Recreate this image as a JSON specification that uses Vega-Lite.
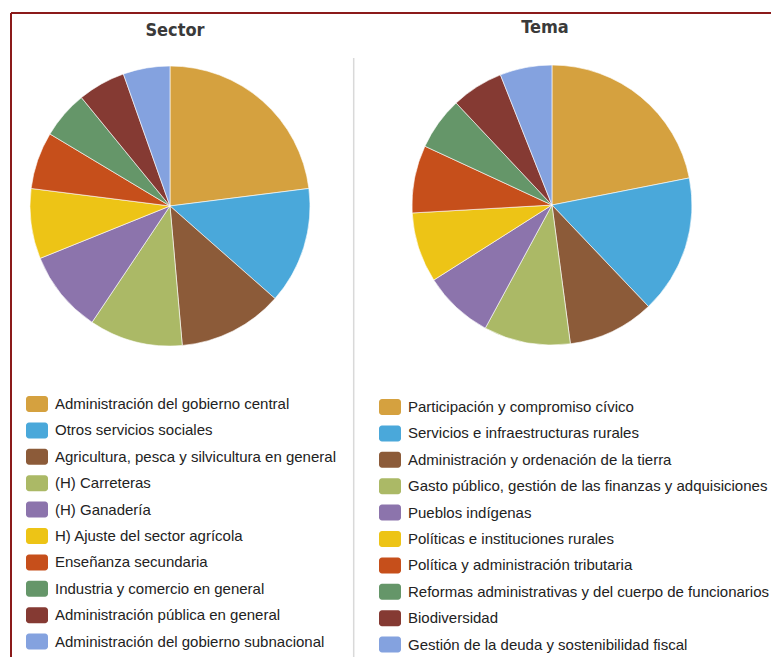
{
  "$schema": "https://vega.github.io/schema/vega-lite/v6.json",
  "width": 760,
  "height": 644,
  "autosize": "none",
  "padding": {"left": 11, "top": 13, "right": 0, "bottom": 0},
  "background": "white",
  "datasets": {
    "sector": [
      {"categoria": "Administración del gobierno central", "pct": 23.0, "orden": 1},
      {"categoria": "Otros servicios sociales", "pct": 13.5, "orden": 2},
      {"categoria": "Agricultura, pesca y silvicultura en general", "pct": 12.1, "orden": 3},
      {"categoria": "(H) Carreteras", "pct": 10.8, "orden": 4},
      {"categoria": "(H) Ganadería", "pct": 9.5, "orden": 5},
      {"categoria": "H) Ajuste del sector agrícola", "pct": 8.1, "orden": 6},
      {"categoria": "Enseñanza secundaria", "pct": 6.6, "orden": 7},
      {"categoria": "Industria y comercio en general", "pct": 5.5, "orden": 8},
      {"categoria": "Administración pública en general", "pct": 5.5, "orden": 9},
      {"categoria": "Administración del gobierno subnacional", "pct": 5.4, "orden": 10}
    ],
    "tema": [
      {"categoria": "Participación y compromiso cívico", "pct": 21.9, "orden": 1},
      {"categoria": "Servicios e infraestructuras rurales", "pct": 16.0, "orden": 2},
      {"categoria": "Administración y ordenación de la tierra", "pct": 10.0, "orden": 3},
      {"categoria": "Gasto público, gestión de las finanzas y adquisiciones", "pct": 10.0, "orden": 4},
      {"categoria": "Pueblos indígenas", "pct": 8.1, "orden": 5},
      {"categoria": "Políticas e instituciones rurales", "pct": 8.1, "orden": 6},
      {"categoria": "Política y administración tributaria", "pct": 7.8, "orden": 7},
      {"categoria": "Reformas administrativas y del cuerpo de funcionarios", "pct": 6.1, "orden": 8},
      {"categoria": "Biodiversidad", "pct": 6.0, "orden": 9},
      {"categoria": "Gestión de la deuda y sostenibilidad fiscal", "pct": 6.0, "orden": 10}
    ]
  },
  "layer": [
    {
      "data": {"values": [{}]},
      "mark": {"type": "rule", "stroke": "#8B1A1A", "strokeWidth": 2},
      "encoding": {"x": {"value": 0}, "x2": {"value": "width"}, "y": {"value": 0}}
    },
    {
      "data": {"values": [{}]},
      "mark": {"type": "rule", "stroke": "#8B1A1A", "strokeWidth": 2},
      "encoding": {"x": {"value": 0}, "y": {"value": 0}, "y2": {"value": "height"}}
    },
    {
      "data": {"values": [{}]},
      "mark": {"type": "rule", "stroke": "#D9D9D9", "strokeWidth": 1.5},
      "encoding": {
        "x": {"datum": 0.4509, "type": "quantitative", "scale": {"domain": [0, 1]}},
        "y": {"datum": 0.0699, "type": "quantitative", "scale": {"domain": [0, 1], "reverse": true}},
        "y2": {"datum": 1}
      }
    },
    {
      "data": {"values": [{}]},
      "mark": {"type": "text", "text": "Sector", "font": "DejaVu Sans Condensed, sans-serif", "fontWeight": "bold", "fontSize": 18, "fill": "#3a3a3a", "baseline": "alphabetic", "align": "center"},
      "encoding": {
        "x": {"datum": 0.2158, "type": "quantitative", "scale": {"domain": [0, 1]}},
        "y": {"datum": 0.0357, "type": "quantitative", "scale": {"domain": [0, 1], "reverse": true}}
      }
    },
    {
      "data": {"values": [{}]},
      "mark": {"type": "text", "text": "Tema", "font": "DejaVu Sans Condensed, sans-serif", "fontWeight": "bold", "fontSize": 18, "fill": "#3a3a3a", "baseline": "alphabetic", "align": "center"},
      "encoding": {
        "x": {"datum": 0.7026, "type": "quantitative", "scale": {"domain": [0, 1]}},
        "y": {"datum": 0.0315, "type": "quantitative", "scale": {"domain": [0, 1], "reverse": true}}
      }
    },
    {
      "data": {"name": "sector"},
      "mark": {"type": "arc", "radius": 140, "stroke": "white", "strokeWidth": 0.6},
      "encoding": {
        "x": {"datum": 0.2092, "type": "quantitative", "scale": {"domain": [0, 1]}},
        "y": {"datum": 0.2997, "type": "quantitative", "scale": {"domain": [0, 1], "reverse": true}},
        "theta": {"field": "pct", "type": "quantitative", "stack": true},
        "order": {"field": "orden", "type": "quantitative"},
        "color": {
          "field": "categoria",
          "type": "nominal",
          "scale": {
            "domain": ["Administración del gobierno central", "Otros servicios sociales", "Agricultura, pesca y silvicultura en general", "(H) Carreteras", "(H) Ganadería", "H) Ajuste del sector agrícola", "Enseñanza secundaria", "Industria y comercio en general", "Administración pública en general", "Administración del gobierno subnacional"],
            "range": ["#D5A13F", "#4AA8DA", "#8C5B39", "#ABB966", "#8C74AC", "#EDC416", "#C64F1B", "#659669", "#853A33", "#84A2DF"]
          },
          "legend": {"orient": "none", "legendX": 15, "legendY": 380, "title": null}
        }
      }
    },
    {
      "data": {"name": "tema"},
      "mark": {"type": "arc", "radius": 140, "stroke": "white", "strokeWidth": 0.6},
      "encoding": {
        "x": {"datum": 0.7118, "type": "quantitative", "scale": {"domain": [0, 1]}},
        "y": {"datum": 0.2982, "type": "quantitative", "scale": {"domain": [0, 1], "reverse": true}},
        "theta": {"field": "pct", "type": "quantitative", "stack": true},
        "order": {"field": "orden", "type": "quantitative"},
        "color": {
          "field": "categoria",
          "type": "nominal",
          "scale": {
            "domain": ["Participación y compromiso cívico", "Servicios e infraestructuras rurales", "Administración y ordenación de la tierra", "Gasto público, gestión de las finanzas y adquisiciones", "Pueblos indígenas", "Políticas e instituciones rurales", "Política y administración tributaria", "Reformas administrativas y del cuerpo de funcionarios", "Biodiversidad", "Gestión de la deuda y sostenibilidad fiscal"],
            "range": ["#D5A13F", "#4AA8DA", "#8C5B39", "#ABB966", "#8C74AC", "#EDC416", "#C64F1B", "#659669", "#853A33", "#84A2DF"]
          },
          "legend": {"orient": "none", "legendX": 368, "legendY": 383, "title": null}
        }
      }
    }
  ],
  "resolve": {
    "scale": {"color": "independent", "theta": "independent"},
    "legend": {"color": "independent"}
  },
  "config": {
    "view": {"stroke": null},
    "axis": {"disable": true},
    "legend": {
      "symbolType": "M-0.727,-0.727H0.727A0.273,0.273 0 0 1 1,-0.455V0.455A0.273,0.273 0 0 1 0.727,0.727H-0.727A0.273,0.273 0 0 1 -1,0.455V-0.455A0.273,0.273 0 0 1 -0.727,-0.727Z",
      "symbolSize": 484,
      "symbolStrokeWidth": 0,
      "symbolOpacity": 1,
      "labelFont": "Liberation Sans, Arial, sans-serif",
      "labelFontSize": 15,
      "labelColor": "#222222",
      "labelOffset": 7,
      "labelLimit": 0,
      "rowPadding": 7.4,
      "padding": 0,
      "columns": 1,
      "direction": "vertical"
    }
  }
}
